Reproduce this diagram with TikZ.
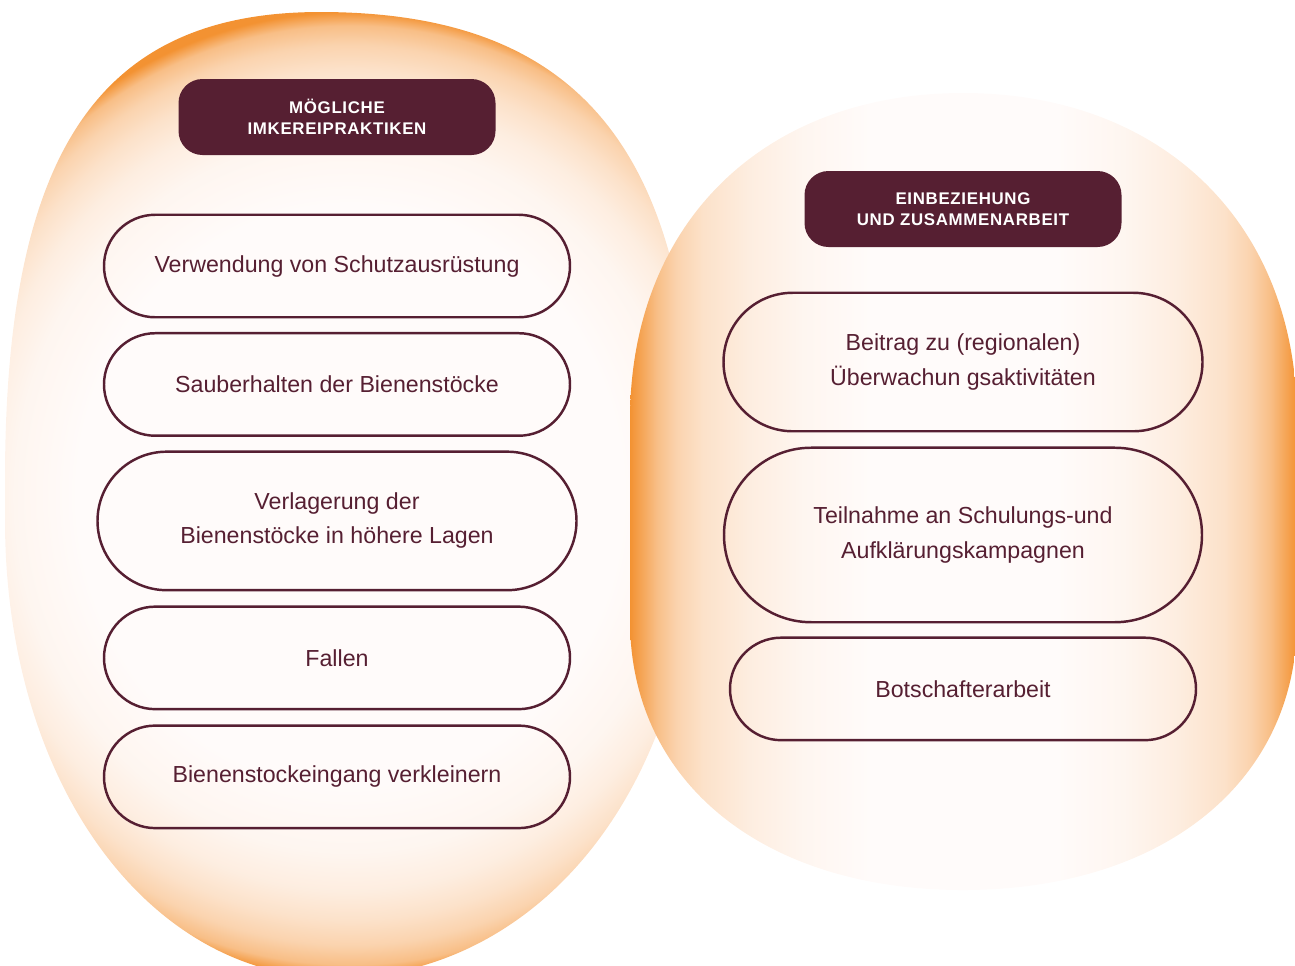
\documentclass[tikz,border=0pt]{standalone}
\usepackage{fontspec}
\setmainfont{Liberation Sans}
\newfontfamily\headfont[LetterSpace=4]{Liberation Sans}
\usetikzlibrary{positioning}

\definecolor{wine}{RGB}{86,31,50}
\definecolor{glow}{RGB}{243,146,50}
\definecolor{blush}{RGB}{255,251,250}
\colorlet{glowB}{glow!58!blush}
\colorlet{glowC}{glow!38!blush}
\colorlet{glowD}{glow!24!blush}
\colorlet{glowE}{glow!13!blush}
\colorlet{glowF}{glow!5!blush}

\pgfdeclareradialshading{leftglow}{\pgfpoint{0bp}{0bp}}{color(0bp)=(blush); color(15bp)=(blush); color(18.5bp)=(glowF); color(20.5bp)=(glowE); color(22bp)=(glowD); color(23.3bp)=(glowC); color(24.3bp)=(glowB); color(25bp)=(glow); color(50bp)=(glow)}
\pgfdeclarehorizontalshading{rightglow}{100bp}{color(0bp)=(glow); color(25bp)=(glow); color(27bp)=(glowB); color(28.5bp)=(glowC); color(30.5bp)=(glowD); color(34bp)=(glowE); color(38bp)=(glowF); color(43bp)=(blush); color(57bp)=(blush); color(62bp)=(glowF); color(66bp)=(glowE); color(69.5bp)=(glowD); color(71.5bp)=(glowC); color(73bp)=(glowB); color(75bp)=(glow); color(100bp)=(glow)}

\newcommand\pillfont{\fontsize{6.6}{9.7}\selectfont}
\newcommand\bannerfont{\headfont\bfseries\fontsize{4.8}{6}\selectfont}

\begin{document}
\begin{tikzpicture}[x=0.1mm,y=-0.1mm,
  pill/.style={draw=wine, line width=0.7pt, text=wine, font=\pillfont, align=center, minimum width=46.6mm, minimum height=#1, rounded corners=#1/2},
  banner/.style={fill=wine, text=white, font=\bannerfont, align=center, minimum width=31.7mm, minimum height=7.6mm, rounded corners=2.4mm}]
\useasboundingbox (0,0) rectangle (1295,965);
\clip (0,0) rectangle (1295,965);

\begin{scope}
\clip (320,12) .. controls (99,12) and (5,152) .. (5,480) -- (5,520) .. controls (5,785) and (150,978) .. (335,978) .. controls (540,978) and (695,785) .. (695,520) -- (695,480) .. controls (695,152) and (582,12) .. (320,12) -- cycle;
\shade[shading=leftglow] (-104,12) rectangle (804,978);
\end{scope}
\shade[shading=rightglow] (963,93) .. controls (763,93) and (630,224) .. (630,420) -- (630,620) .. controls (630,782) and (763,890) .. (963,890) .. controls (1163,890) and (1297,782) .. (1297,620) -- (1297,420) .. controls (1297,224) and (1163,93) .. (963,93) -- cycle;

\node[banner] (lhead) at (337,117) {MÖGLICHE\\IMKEREIPRAKTIKEN};
\node[pill=10.25mm] (l1) at (337,266) {Verwendung von Schutzausrüstung};
\node[pill=10.25mm, below=1.35mm of l1] (l2) {Sauberhalten der Bienenstöcke};
\node[pill=13.85mm, minimum width=47.9mm, below=1.35mm of l2] (l3) {Verlagerung der\\Bienenstöcke in höhere Lagen};
\node[pill=10.25mm, below=1.4mm of l3] (l4) {Fallen};
\node[pill=10.25mm, below=1.4mm of l4] (l5) {Bienenstockeingang verkleinern};

\node[banner] (rhead) at (963,209) {EINBEZIEHUNG\\UND ZUSAMMENARBEIT};
\node[pill=13.85mm, minimum width=47.9mm] (r1) at (963,362) {Beitrag zu (regionalen)\\Überwachun gsaktivitäten};
\node[pill=17.45mm, minimum width=47.8mm, below=1.4mm of r1] (r2) {Teilnahme an Schulungs-und\\Aufklärungskampagnen};
\node[pill=10.25mm, below=1.3mm of r2] (r3) {Botschafterarbeit};

\end{tikzpicture}
\end{document}
